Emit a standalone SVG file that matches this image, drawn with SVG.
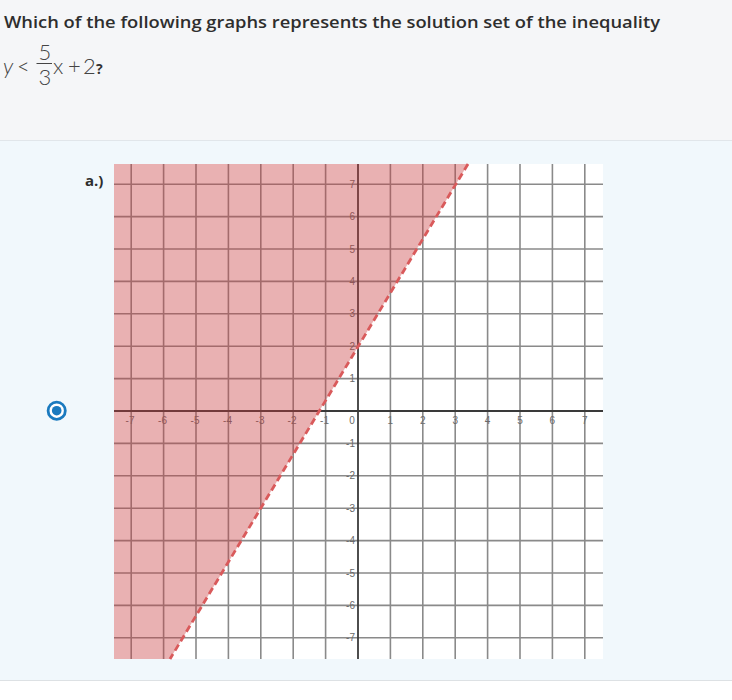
<svg xmlns="http://www.w3.org/2000/svg" width="732" height="700" viewBox="0 0 732 700">
<style>
.q{font-family:"Open Sans","Liberation Sans",sans-serif;font-size:17px;font-weight:600;fill:#2e2e2e}
.m{font-family:Lato,"Liberation Sans",sans-serif;font-size:22px;font-weight:300;fill:#444444}
.grid line{stroke:#8a8a8a;stroke-width:1.6}
.axis line{stroke:#3a3a3a;stroke-width:1.8}
.lbl{font-family:"Liberation Sans","DejaVu Sans",sans-serif;font-size:10px;fill:#6a6a6a}
.xl{text-anchor:middle}
.yl{text-anchor:end}
</style>
<rect x="0" y="0" width="732" height="700" fill="#ffffff"/>
<rect id="header-bg" x="0" y="0" width="732" height="140" fill="#f5f6f8"/>
<line x1="0" y1="140.5" x2="732" y2="140.5" stroke="#e1e6ea" stroke-width="1"/>
<rect id="answer-bg" x="0" y="141" width="732" height="539" fill="#f1f8fc"/>
<line x1="0" y1="680.5" x2="732" y2="680.5" stroke="#dde1e4" stroke-width="1"/>

<g id="question">
<text class="q" x="4" y="28" textLength="656" lengthAdjust="spacingAndGlyphs">Which of the following graphs represents the solution set of the inequality</text>
<text class="m" x="3" y="74" font-style="italic">y</text>
<text class="m" x="17" y="74">&lt;</text>
<text class="m" x="45" y="60" text-anchor="middle">5</text>
<line x1="36.5" y1="63.5" x2="52" y2="63.5" stroke="#444444" stroke-width="1"/>
<text class="m" x="45" y="85" text-anchor="middle">3</text>
<text class="m" x="53" y="74">x</text>
<text class="m" x="68" y="74">+</text>
<text class="m" x="83" y="74">2</text>
<text x="96" y="74" font-family="'Open Sans','Liberation Sans',sans-serif" font-size="14" font-weight="700" fill="#333333">?</text>
</g>

<g id="option-a">
<circle cx="56.7" cy="410.7" r="8.6" fill="#ffffff" stroke="#1a7abf" stroke-width="2.8"/>
<circle cx="56.7" cy="410.7" r="4.8" fill="#1a7abf"/>
<text x="85" y="186" font-family="'Open Sans','Liberation Sans',sans-serif" font-size="15" font-weight="700" fill="#2e2e2e">a.)</text>
</g>

<g id="graph">
<rect x="114" y="164" width="489" height="495" fill="#ffffff"/>
<g class="grid">
<line x1="131.2" y1="164" x2="131.2" y2="659"/>
<line x1="163.6" y1="164" x2="163.6" y2="659"/>
<line x1="196" y1="164" x2="196" y2="659"/>
<line x1="228.4" y1="164" x2="228.4" y2="659"/>
<line x1="260.8" y1="164" x2="260.8" y2="659"/>
<line x1="293.2" y1="164" x2="293.2" y2="659"/>
<line x1="325.6" y1="164" x2="325.6" y2="659"/>
<line x1="390.4" y1="164" x2="390.4" y2="659"/>
<line x1="422.8" y1="164" x2="422.8" y2="659"/>
<line x1="455.2" y1="164" x2="455.2" y2="659"/>
<line x1="487.6" y1="164" x2="487.6" y2="659"/>
<line x1="520" y1="164" x2="520" y2="659"/>
<line x1="552.4" y1="164" x2="552.4" y2="659"/>
<line x1="584.8" y1="164" x2="584.8" y2="659"/>
<line x1="114" y1="184.2" x2="603" y2="184.2"/>
<line x1="114" y1="216.6" x2="603" y2="216.6"/>
<line x1="114" y1="249" x2="603" y2="249"/>
<line x1="114" y1="281.4" x2="603" y2="281.4"/>
<line x1="114" y1="313.8" x2="603" y2="313.8"/>
<line x1="114" y1="346.2" x2="603" y2="346.2"/>
<line x1="114" y1="378.6" x2="603" y2="378.6"/>
<line x1="114" y1="443.4" x2="603" y2="443.4"/>
<line x1="114" y1="475.8" x2="603" y2="475.8"/>
<line x1="114" y1="508.2" x2="603" y2="508.2"/>
<line x1="114" y1="540.6" x2="603" y2="540.6"/>
<line x1="114" y1="573" x2="603" y2="573"/>
<line x1="114" y1="605.4" x2="603" y2="605.4"/>
<line x1="114" y1="637.8" x2="603" y2="637.8"/>
</g>
<g class="axis">
<line x1="358" y1="164" x2="358" y2="659"/>
<line x1="114" y1="411" x2="603" y2="411"/>
</g>
<g class="lbl xl">
<text x="130" y="424">-7</text>
<text x="162.5" y="424">-6</text>
<text x="195" y="424">-5</text>
<text x="227.5" y="424">-4</text>
<text x="260" y="424">-3</text>
<text x="292" y="424">-2</text>
<text x="324.5" y="424">-1</text>
<text x="352" y="424">0</text>
<text x="390.4" y="424">1</text>
<text x="422.8" y="424">2</text>
<text x="455.2" y="424">3</text>
<text x="487.6" y="424">4</text>
<text x="520" y="424">5</text>
<text x="552.4" y="424">6</text>
<text x="584.8" y="424">7</text>
</g>
<g class="lbl yl">
<text x="355" y="187.7">7</text>
<text x="355" y="220.1">6</text>
<text x="355" y="252.5">5</text>
<text x="355" y="284.9">4</text>
<text x="355" y="317.3">3</text>
<text x="355" y="349.7">2</text>
<text x="355" y="382.1">1</text>
<text x="355" y="446.9">-1</text>
<text x="355" y="479.3">-2</text>
<text x="355" y="511.7">-3</text>
<text x="355" y="544.1">-4</text>
<text x="355" y="576.5">-5</text>
<text x="355" y="608.9">-6</text>
<text x="355" y="641.3">-7</text>
</g>
<polygon id="solution-region" points="114,164 468,164 170,659 114,659" fill="rgb(200,60,62)" fill-opacity="0.4"/>
<line id="boundary" x1="468" y1="164" x2="170" y2="659" stroke="#d95a5b" stroke-width="2.8" stroke-dasharray="7 4"/>
</g>
</svg>
